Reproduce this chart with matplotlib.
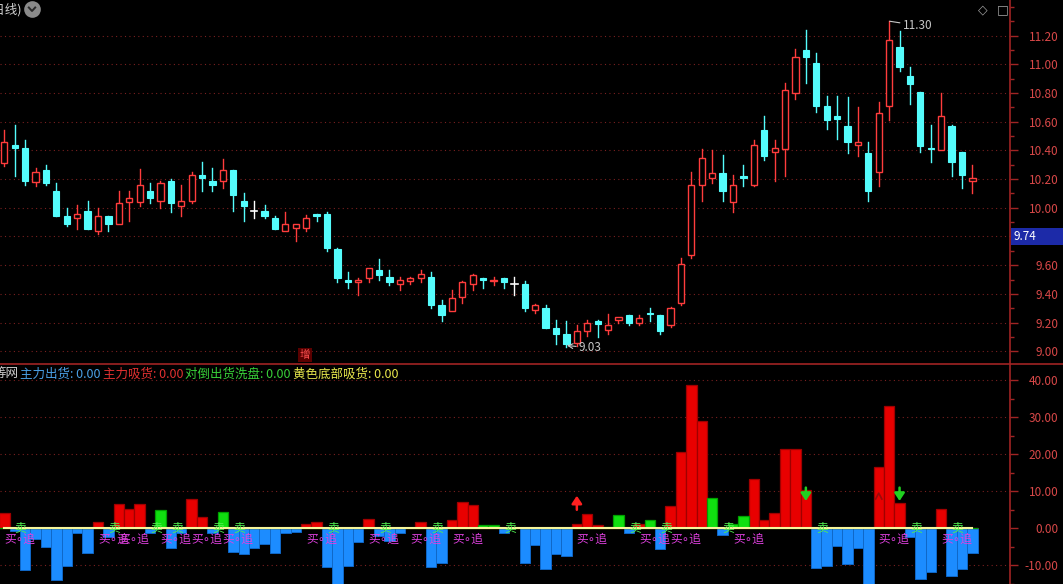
import matplotlib
matplotlib.use("Agg")
import matplotlib.pyplot as plt
from matplotlib.patches import Rectangle
from matplotlib.ticker import MultipleLocator
import numpy as np

# price candles (daily)
opens = [10.31, 10.44, 10.42, 10.18, 10.26, 10.12, 9.94, 9.93, 9.98, 9.84,
         9.94, 9.89, 10.04, 10.04, 10.12, 10.05, 10.19, 10.01, 10.05, 10.23,
         10.19, 10.19, 10.26, 10.05, 9.98, 9.98, 9.93, 9.84, 9.86, 9.86,
         9.96, 9.96, 9.71, 9.50, 9.48, 9.51, 9.57, 9.52, 9.47, 9.49,
         9.51, 9.52, 9.32, 9.28, 9.38, 9.47, 9.51, 9.49, 9.51, 9.47,
         9.47, 9.29, 9.30, 9.16, 9.12, 9.06, 9.14, 9.21, 9.15, 9.22,
         9.25, 9.20, 9.27, 9.25, 9.18, 9.34, 9.67, 10.16, 10.21, 10.24,
         10.04, 10.22, 10.16, 10.54, 10.39, 10.41, 10.80, 11.10, 11.01, 10.71,
         10.64, 10.57, 10.44, 10.38, 10.25, 10.71, 11.12, 10.92, 10.81, 10.42,
         10.40, 10.57, 10.39, 10.19]
highs = [10.54, 10.58, 10.47, 10.28, 10.30, 10.17, 10.00, 10.02, 10.05, 10.00,
         9.94, 10.12, 10.12, 10.27, 10.17, 10.19, 10.20, 10.16, 10.25, 10.32,
         10.28, 10.34, 10.26, 10.10, 10.05, 10.02, 9.94, 9.97, 9.89, 9.95,
         9.96, 9.97, 9.72, 9.55, 9.51, 9.58, 9.64, 9.57, 9.52, 9.52,
         9.57, 9.55, 9.36, 9.43, 9.49, 9.54, 9.51, 9.52, 9.51, 9.52,
         9.49, 9.33, 9.32, 9.22, 9.21, 9.18, 9.22, 9.22, 9.26, 9.24,
         9.25, 9.25, 9.30, 9.25, 9.31, 9.65, 10.25, 10.41, 10.40, 10.37,
         10.23, 10.30, 10.47, 10.64, 10.47, 10.87, 11.11, 11.24, 11.08, 10.78,
         10.78, 10.77, 10.70, 10.46, 10.74, 11.30, 11.23, 10.98, 10.81, 10.58,
         10.80, 10.58, 10.39, 10.30]
lows = [10.29, 10.22, 10.16, 10.15, 10.16, 9.94, 9.87, 9.85, 9.85, 9.82,
        9.84, 9.89, 9.91, 10.01, 10.03, 10.00, 9.97, 9.94, 10.03, 10.12,
        10.12, 10.14, 9.98, 9.91, 9.93, 9.93, 9.85, 9.84, 9.77, 9.84,
        9.91, 9.70, 9.48, 9.44, 9.39, 9.48, 9.50, 9.46, 9.43, 9.47,
        9.48, 9.30, 9.21, 9.28, 9.34, 9.43, 9.44, 9.46, 9.44, 9.39,
        9.28, 9.27, 9.16, 9.05, 9.03, 9.04, 9.11, 9.10, 9.12, 9.20,
        9.18, 9.18, 9.21, 9.12, 9.17, 9.32, 9.65, 10.05, 10.17, 10.05,
        9.97, 10.15, 10.15, 10.33, 10.19, 10.22, 10.76, 10.87, 10.67, 10.55,
        10.48, 10.38, 10.36, 10.05, 10.15, 10.61, 10.95, 10.72, 10.39, 10.32,
        10.40, 10.22, 10.14, 10.10]
closes = [10.46, 10.42, 10.19, 10.25, 10.17, 9.94, 9.89, 9.96, 9.85, 9.94,
          9.89, 10.03, 10.07, 10.16, 10.07, 10.17, 10.03, 10.05, 10.23, 10.21,
          10.16, 10.26, 10.09, 10.01, 9.98, 9.94, 9.85, 9.89, 9.89, 9.93,
          9.94, 9.72, 9.51, 9.48, 9.50, 9.58, 9.53, 9.48, 9.50, 9.51,
          9.54, 9.32, 9.25, 9.37, 9.48, 9.53, 9.50, 9.50, 9.48, 9.47,
          9.30, 9.32, 9.16, 9.12, 9.05, 9.14, 9.20, 9.19, 9.18, 9.24,
          9.20, 9.23, 9.26, 9.14, 9.30, 9.61, 10.16, 10.35, 10.24, 10.12,
          10.16, 10.21, 10.44, 10.36, 10.42, 10.82, 11.05, 11.05, 10.71, 10.61,
          10.62, 10.46, 10.46, 10.12, 10.66, 11.17, 10.98, 10.86, 10.43, 10.41,
          10.64, 10.32, 10.23, 10.21]

# indicator panel
chu_huo = [0, -0.6, -11.4, -3.0, -5.0, -14.0, -10.1, -1.2, -6.6, 0,
           -2.3, 0, 0, 0, -1.4, 0, -5.2, -1.2, 0, 0,
           -1.2, 0, -6.3, -7.0, -5.2, -4.2, -6.6, -1.4, -0.9, 0,
           0, -10.4, -16.0, -10.1, -3.6, 0, -2.0, -3.3, -1.2, 0,
           0, -10.4, -9.5, 0, 0, 0, 0, 0, -1.2, 0,
           -9.3, -4.5, -10.9, -7.0, -7.4, 0, 0, 0, 0, 0,
           -1.2, 0, 0, -5.5, 0, 0, 0, 0, 0, -1.9,
           0, 0, 0, 0, 0, 0, 0, 0, -10.6, -10.1,
           -4.7, -9.7, -5.2, -16.0, 0, 0, 0, -2.3, -13.8, -11.7,
           0, -12.8, -10.9, -6.6]
xi_huo = [4.1, 0, 0, 0, 0, 0, 0, 0, 0, 1.7,
          0, 6.6, 5.2, 6.6, 0, 0, 0, 0, 7.9, 3.1,
          0, 0, 0, 0, 0, 0, 0, 0, 0, 1.2,
          1.7, 0, 0, 0, 0, 2.5, 0, 0, 0, 0,
          1.7, 0, 0, 2.3, 7.1, 6.3, 0, 0, 0, 0,
          0, 0, 0, 0, 0, 1.2, 3.9, 0.9, 0, 0,
          0, 1.2, 0, 0, 6.0, 20.5, 38.7, 29.0, 0, 0,
          0, 0, 13.3, 2.3, 4.2, 21.4, 21.4, 10.4, 0, 0,
          0, 0, 0, 0, 16.5, 33.1, 6.8, 0, 0, 0,
          5.2, 0, 0, 0]
dui_dao = [0, 0, 0, 0, 0, 0, 0, 0, 0, 0,
           0, 0, 0, 0, 0, 5.0, 0, 0, 0, 0,
           0, 4.4, 0, 0, 0, 0, 0, 0, 0, 0,
           0, 0, 0, 0, 0, 0, 0, 0, 0, 0,
           0, 0, 0, 0, 0, 0, 0.9, 0.9, 0, 0,
           0, 0, 0, 0, 0, 0, 0, 0, 0.4, 3.6,
           0, 0, 2.3, 0, 0, 0, 0, 0, 8.2, 0,
           1.2, 3.2, 0, 0, 0, 0, 0, 0, 0, 0,
           0, 0, 0, 0, 0, 0, 0, 0, 0, 0,
           0, 0, 0, 0]

buy_idx = [0, 9, 11, 15, 18, 21, 29, 35, 39, 43, 55, 61, 64, 70, 84, 90]
sell_idx = [1, 10, 14, 16, 20, 22, 31, 36, 41, 48, 60, 63, 69, 78, 87, 91]
up_arrow_idx = [55]
down_arrow_idx = [77, 86]

price_ticks = [9.00, 9.20, 9.40, 9.60, 9.80, 10.00, 10.20, 10.40, 10.60, 10.80, 11.00, 11.20]
ind_ticks = [-10, 0, 10, 20, 30, 40]
last_price = 9.74

plt.rcParams['font.family'] = ['Noto Sans CJK SC', 'DejaVu Sans']

W, H = 1063, 584
fig = plt.figure(figsize=(W / 100, H / 100), dpi=100, facecolor='black')
SPLIT = 364
XL = (-0.413, 96.61)

axis_red = '#a02424'
label_red = '#d84848'
grid_kw = dict(color='#7a2020', linestyle=(0, (1, 3)), linewidth=0.8)


def style_axis(a, ticks, fmt, minor):
    a.set_facecolor('black')
    a.set_xlim(*XL)
    for s in ['top', 'left', 'bottom']:
        a.spines[s].set_visible(False)
    a.spines['right'].set_color(axis_red)
    a.spines['right'].set_linewidth(1.2)
    a.set_xticks([])
    a.yaxis.tick_right()
    a.set_yticks(ticks)
    a.set_yticklabels([fmt.format(t) for t in ticks])
    a.yaxis.set_minor_locator(MultipleLocator(minor))
    a.tick_params(axis='y', which='major', colors=axis_red, labelcolor=label_red,
                  length=6, width=1, labelsize=8.5, pad=29)
    a.tick_params(axis='y', which='minor', colors=axis_red, length=3, width=1)
    for lab in a.get_yticklabels():
        lab.set_horizontalalignment('right')


# ---- main price panel
ax = fig.add_axes([0, 1 - SPLIT / H, 1010 / W, SPLIT / H])
ax.set_ylim(8.9115, 11.448)
style_axis(ax, price_ticks, '{:.2f}', 0.1)
for t in price_ticks:
    ax.axhline(t, **grid_kw, zorder=0)

up_c, dn_c = '#ff3c3c', '#54fcfc'
bw = 0.6
for i, (o, h, l, c) in enumerate(zip(opens, highs, lows, closes)):
    if c > o:
        ax.plot([i, i], [l, o], color=up_c, lw=1, zorder=2)
        ax.plot([i, i], [c, h], color=up_c, lw=1, zorder=2)
        ax.add_patch(Rectangle((i - bw / 2, o), bw, c - o, facecolor='black',
                               edgecolor=up_c, lw=1, zorder=3))
    elif c < o:
        ax.plot([i, i], [l, h], color=dn_c, lw=1, zorder=2)
        ax.add_patch(Rectangle((i - bw / 2, c), bw, max(o - c, 0.008),
                               facecolor=dn_c, edgecolor=dn_c, lw=0.8, zorder=3))
    else:
        ax.plot([i, i], [l, h], color='white', lw=1, zorder=2)
        ax.plot([i - bw / 2, i + bw / 2], [o, o], color='white', lw=1.2, zorder=3)

# high / low marks
lo_i = int(np.argmin(lows))
hi_i = int(np.argmax(highs))
ax.annotate(f'{lows[lo_i]:.2f}', xy=(lo_i + 0.05, lows[lo_i] + 0.01),
            xytext=(lo_i + 1.2, lows[lo_i] - 0.005), color='#c8c8c8', fontsize=8.5,
            va='center', ha='left',
            arrowprops=dict(arrowstyle='->', color='#c8c8c8', lw=0.8,
                            shrinkA=0, shrinkB=0))
ax.annotate(f'{highs[hi_i]:.2f}', xy=(hi_i + 0.05, highs[hi_i]),
            xytext=(hi_i + 1.3, highs[hi_i] - 0.03), color='#c8c8c8', fontsize=8.5,
            va='center', ha='left',
            arrowprops=dict(arrowstyle='-', color='#c8c8c8', lw=0.8,
                            shrinkA=0, shrinkB=0))

ax.text(28.9, 8.974, '增', color='#ff5050', fontsize=7.5, ha='center', va='center',
        bbox=dict(boxstyle='square,pad=0.15', facecolor='#5a0000', edgecolor='none'))

# ---- indicator panel
ax2 = fig.add_axes([0, 0, 1010 / W, (H - SPLIT) / H])
ax2.set_ylim(-15.05, 44.4)
style_axis(ax2, ind_ticks, '{:.2f}', 5)
for t in ind_ticks:
    if t != 0:
        ax2.axhline(t, **grid_kw, zorder=0)

x = np.arange(len(opens))
ax2.bar(x, chu_huo, width=1.0, color='#1c8cff', edgecolor='#1068c8', lw=0.7, zorder=2)
ax2.bar(x, xi_huo, width=1.0, color='#e80000', edgecolor='#a00000', lw=0.9, zorder=2)
ax2.bar(x, dui_dao, width=1.0, color='#10e010', edgecolor='#00a000', lw=0.9, zorder=2)
ax2.plot([0, len(opens) - 1], [0, 0], color='#f5f59a', lw=1.5, zorder=4)

for i in sell_idx:
    ax2.text(i, 0.2, '卖', color='#50f050', fontsize=8.5, ha='left', va='center', zorder=5)
for i in buy_idx:
    ax2.text(i, -3.0, '买∘追', color='#e040e0', fontsize=8.5, ha='left', va='center',
             zorder=5)
for i in up_arrow_idx:
    ax2.annotate('', xy=(i, 8.8), xytext=(i, 5.0),
                 arrowprops=dict(arrowstyle='-|>,head_width=0.3,head_length=0.45',
                                 color='#ff2020', lw=1.8, shrinkA=0, shrinkB=0))
for i in down_arrow_idx:
    ax2.annotate('', xy=(i, 7.4), xytext=(i, 11.0),
                 arrowprops=dict(arrowstyle='-|>,head_width=0.3,head_length=0.45',
                                 color='#20d020', lw=1.8, shrinkA=0, shrinkB=0))
ax2.plot([83.7, 84, 84.3], [7.9, 9.5, 7.9], color='#9a0a0a', lw=1.2, zorder=4)

# ---- frame and header texts
fig.add_artist(plt.Line2D([0, 1], [1 - SPLIT / H] * 2, color=axis_red, lw=1.2))

fig.text(-11 / W, 1 - 10 / H, '(日线)', color='#d0d0d0', fontsize=9, va='center')
fig.add_artist(plt.Line2D([32 / W], [1 - 9 / H], marker='o', markersize=12,
                          markerfacecolor='#8a8a8a', markeredgecolor='none'))
fig.add_artist(plt.Line2D([28.8 / W, 32 / W, 35.2 / W],
                          [1 - 7.5 / H, 1 - 11 / H, 1 - 7.5 / H], color='#2a2a2a', lw=1.4))
fig.text(983 / W, 1 - 10 / H, '◇', color='#a0a0a0', fontsize=9, ha='center', va='center',
         family='DejaVu Sans')
fig.text(1003 / W, 1 - 10 / H, '□', color='#a0a0a0', fontsize=9, ha='center', va='center',
         family='DejaVu Sans')

# last price box on the axis
y_last = 1 - 236 / H
box = Rectangle((1011 / W, y_last - 8.5 / H), 52 / W, 17 / H, transform=fig.transFigure,
                facecolor='#1c2aa8', edgecolor='none', zorder=10)
fig.add_artist(box)
fig.text(1014 / W, y_last, f'{last_price:.2f}', color='white', fontsize=8.5,
         va='center', zorder=11)

legend_y = 1 - 374 / H
fig.text(-6 / W, legend_y, '等网', color='#d0d0d0', fontsize=9, va='center')
fig.text(20 / W, legend_y, '主力出货: 0.00', color='#4aa0e6', fontsize=9, va='center')
fig.text(103 / W, legend_y, '主力吸货: 0.00', color='#e03030', fontsize=9, va='center')
fig.text(185 / W, legend_y, '对倒出货洗盘: 0.00', color='#38d038', fontsize=9, va='center')
fig.text(293 / W, legend_y, '黄色底部吸货: 0.00', color='#e8e84c', fontsize=9, va='center')

fig.savefig('out.png', dpi=100, facecolor='black')
